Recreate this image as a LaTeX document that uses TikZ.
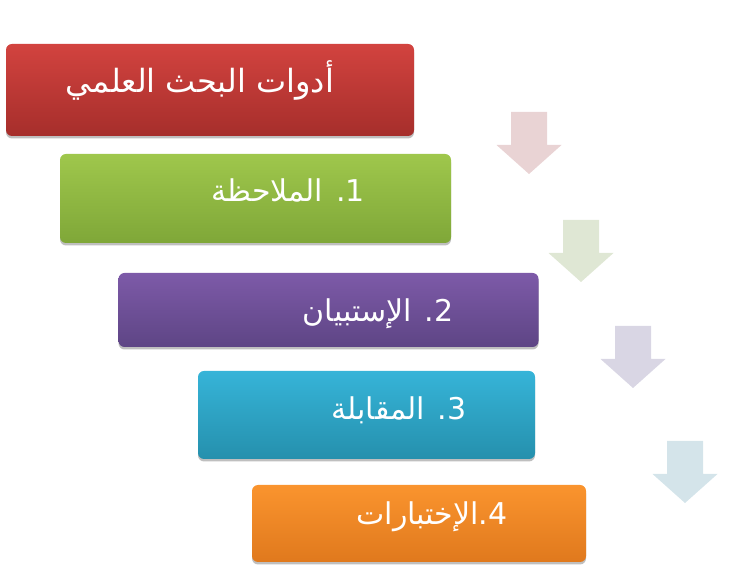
\documentclass[tikz,border=0pt]{standalone}
\usepackage{fontspec}
\usepackage{tikz}
\usetikzlibrary{shadows}
\TeXXeTstate=1
\newfontfamily\arabicfont[Script=Arabic]{DejaVu Sans}
\definecolor{redtop}{HTML}{D2433F}
\definecolor{redbot}{HTML}{A62E2B}
\definecolor{greentop}{HTML}{9FC74C}
\definecolor{greenbot}{HTML}{7FA738}
\definecolor{purpletop}{HTML}{7D5AA8}
\definecolor{purplebot}{HTML}{5E4585}
\definecolor{tealtop}{HTML}{36B4D8}
\definecolor{tealbot}{HTML}{2590AD}
\definecolor{orangetop}{HTML}{FA942E}
\definecolor{orangebot}{HTML}{E0791D}
\definecolor{arrred}{HTML}{E9D3D4}
\definecolor{arrgreen}{HTML}{DFE7D4}
\definecolor{arrpurple}{HTML}{D9D6E4}
\definecolor{arrblue}{HTML}{D4E4EA}

\begin{document}
\begin{tikzpicture}
    [
      x=1pt, y=1pt,
      stepbox/.style={rectangle, rounded corners=6pt, inner sep=0pt,
        drop shadow={shadow xshift=0pt, shadow yshift=-2.5pt, opacity=0.25, fill=black}},
      steptext/.style={anchor=base, inner sep=0pt, text=white,
        font=\arabicfont\fontsize{30}{36}\selectfont},
      downarr/.pic={\fill (-18,0) -- (18,0) -- (18,-33) -- (32.5,-33) -- (0,-62)
        -- (-32.5,-33) -- (-18,-33) -- cycle;}
    ]
    \useasboundingbox (0,0) rectangle (735,569);
    \node (tools) [stepbox, top color=redtop, bottom color=redbot,
      minimum width=408, minimum height=92] at (210,479) {};
    \node (observe) [stepbox, top color=greentop, bottom color=greenbot,
      minimum width=391, minimum height=89] at (255.5,370.5) {};
    \node (survey) [stepbox, top color=purpletop, bottom color=purplebot,
      minimum width=420, minimum height=74] at (328.5,259) {};
    \node (interview) [stepbox, top color=tealtop, bottom color=tealbot,
      minimum width=337, minimum height=88] at (366.5,154) {};
    \node (tests) [stepbox, top color=orangetop, bottom color=orangebot,
      minimum width=334, minimum height=77] at (419,45.5) {};

    \node (tools-t) [steptext, font=\arabicfont\fontsize{32}{38}\selectfont] at (200,476)
      {\beginR أدوات البحث العلمي\endR};
    \node (observe-t) [steptext] at (288,367)
      {\beginR\beginL 1.\endL{} الملاحظة\endR};
    \node (survey-t) [steptext] at (378,247)
      {\beginR\beginL 2.\endL{} الإستبيان\endR};
    \node (interview-t) [steptext] at (399,149)
      {\beginR\beginL 3.\endL{} المقابلة\endR};
    \node (tests-t) [steptext] at (432,44)
      {\beginR\beginL 4.\endL{}الإختبارات\endR};

    \pic [fill=arrred] at (529,457) {downarr};
    \pic [fill=arrgreen] at (581,349) {downarr};
    \pic [fill=arrpurple] at (633,243) {downarr};
    \pic [fill=arrblue] at (685,128) {downarr};
  \end{tikzpicture}
\end{document}
